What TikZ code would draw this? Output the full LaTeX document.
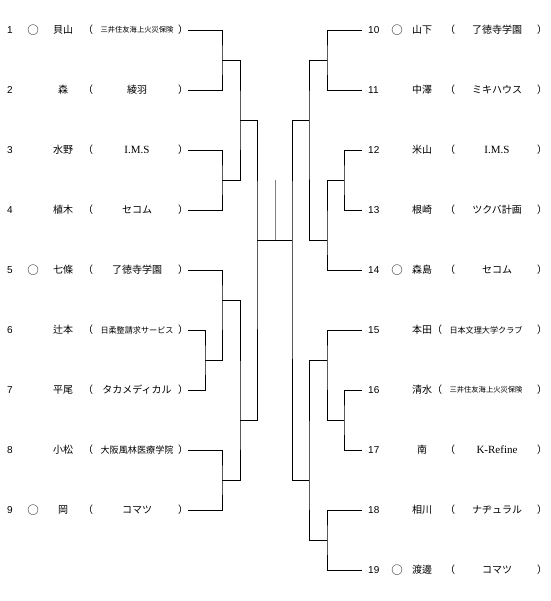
\documentclass[tikz,border=0pt]{standalone}
\usepackage{fontspec}
\usepackage{graphicx}
\setmainfont{Noto Sans CJK JP}
\newfontfamily\latsans{Liberation Sans}
\newfontfamily\latserif{Liberation Serif}
\newcommand{\fitteam}[1]{\resizebox{73pt}{!}{#1}}
\newcommand{\latin}[1]{{\latserif\fontsize{11}{13}\selectfont #1}}

\begin{document}
\begin{tikzpicture}[
  x=1pt, y=-1pt,
  font=\fontsize{10}{12}\selectfont,
  num/.style={font=\latsans\fontsize{10}{12}\selectfont, inner sep=0pt},
  seed/.style={font=\fontsize{11.5}{13}\selectfont, inner sep=0pt},
  pname/.style={inner sep=0pt},
  paren/.style={inner sep=0pt},
  team/.style={inner sep=0pt},
  line/.style={line width=0.8pt, black},
  crown/.style={line width=0.9pt, black!50}
]
\fill[white] (0,0) rectangle (550,601);
\useasboundingbox (0,0) rectangle (550,601);

\foreach \i/\nm/\tm in {
  1/貝山/{\fitteam{三井住友海上火災保険}},
  2/森/綾羽,
  3/水野/{\latin{I.M.S}},
  4/植木/セコム,
  5/七條/了徳寺学園,
  6/辻本/{\fitteam{日柔整請求サービス}},
  7/平尾/タカメディカル,
  8/小松/{\fitteam{大阪風林医療学院}},
  9/岡/コマツ}{
  \pgfmathsetmacro{\y}{60*\i-30}
  \node[num] (num\i) at (10,\y) {\i};
  \node[pname] (nm\i) at (63,\y) {\nm};
  \node[paren] (lp\i) at (88,\y) {（};
  \node[team] (tm\i) at (137,\y) {\tm};
  \node[paren] (rp\i) at (183,\y) {）};
  \coordinate (e\i) at (188,\y);
}
\foreach \i in {1,5,9}
  \node[seed] (mk\i) at (33,60*\i-30) {○};

\foreach \i/\nm/\tm/\lx/\tx in {
  10/山下/了徳寺学園/450/497,
  11/中澤/ミキハウス/450/497,
  12/米山/{\latin{I.M.S}}/450/497,
  13/根崎/ツクバ計画/450/497,
  14/森島/セコム/450/497,
  15/本田/{\fitteam{日本文理大学クラブ}}/437/486,
  16/清水/{\fitteam{三井住友海上火災保険}}/437/486,
  17/南/{\latin{K-Refine}}/450/497,
  18/相川/ナヂュラル/450/497,
  19/渡邊/コマツ/450/497}{
  \pgfmathsetmacro{\y}{60*\i-570}
  \node[num, anchor=west] (num\i) at (368,\y) {\i};
  \node[pname] (nm\i) at (422,\y) {\nm};
  \node[paren] (lp\i) at (\lx,\y) {（};
  \node[team] (tm\i) at (\tx,\y) {\tm};
  \node[paren] (rp\i) at (542,\y) {）};
  \coordinate (e\i) at (362,\y);
}
\foreach \i in {10,14,19}
  \node[seed] (mk\i) at (397,60*\i-570) {○};

% left half
\coordinate (j1) at (222,60);
\coordinate (j2) at (222,180);
\coordinate (j3) at (205,360);
\coordinate (j4) at (222,300);
\coordinate (j5) at (222,480);
\coordinate (k1) at (240,120);
\coordinate (k2) at (240,420);
\coordinate (l1) at (257,240);
% right half
\coordinate (rj1) at (327,60);
\coordinate (rj2) at (344,180);
\coordinate (rj3) at (327,240);
\coordinate (rj4) at (344,420);
\coordinate (rj5) at (327,360);
\coordinate (rj6) at (327,540);
\coordinate (rk1) at (309,120);
\coordinate (rk2) at (309,480);
\coordinate (rl1) at (292,240);
\coordinate (top) at (275,180);

\draw[line] (e1) -| (j1) |- (e2);
\draw[line] (e3) -| (j2) |- (e4);
\draw[line] (e6) -| (j3) |- (e7);
\draw[line] (e5) -| (j4) |- (j3);
\draw[line] (e8) -| (j5) |- (e9);
\draw[line] (j1) -| (k1) |- (j2);
\draw[line] (j4) -| (k2) |- (j5);
\draw[line] (k1) -| (l1) |- (k2);

\draw[line] (e10) -| (rj1) |- (e11);
\draw[line] (e12) -| (rj2) |- (e13);
\draw[line] (rj2) -| (rj3) |- (e14);
\draw[line] (e16) -| (rj4) |- (e17);
\draw[line] (e15) -| (rj5) |- (rj4);
\draw[line] (e18) -| (rj6) |- (e19);
\draw[line] (rj1) -| (rk1) |- (rj3);
\draw[line] (rj5) -| (rk2) |- (rj6);
\draw[line] (rk1) -| (rl1) |- (rk2);

\draw[line] (l1) -- (rl1);
\draw[crown] (top) -- (top |- l1);
\end{tikzpicture}
\end{document}
